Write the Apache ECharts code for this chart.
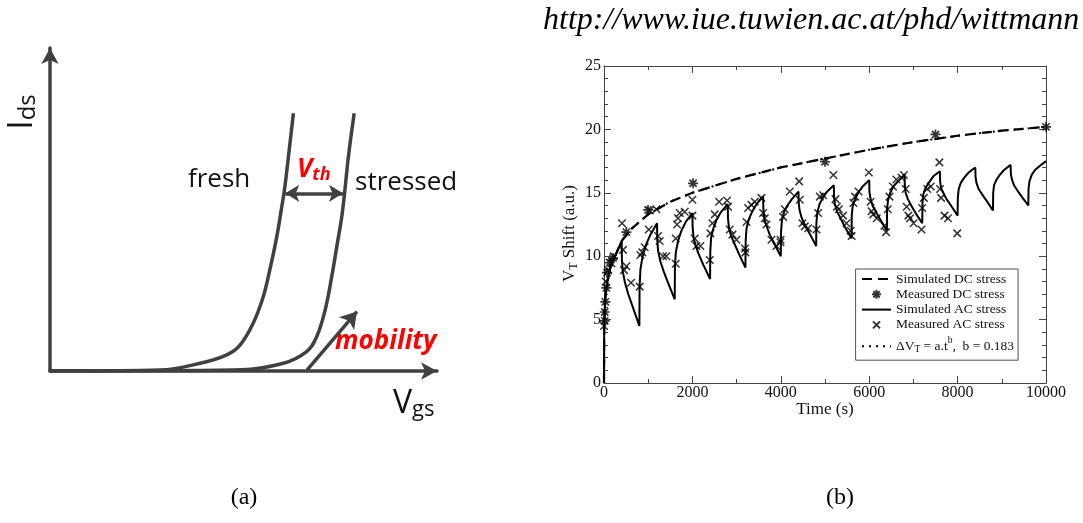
<!DOCTYPE html>
<html><head><meta charset="utf-8">
<script src="https://cdn.jsdelivr.net/npm/echarts/dist/echarts.min.js"></script>
<style>html,body{margin:0;padding:0;background:#fff}#c{width:1083px;height:523px}</style>
</head><body><div id="c"></div>
<script>
// ================= panel (b) data =================
const xTicks = [0, 2000, 4000, 6000, 8000, 10000];
const yTicks = [0, 5, 10, 15, 20, 25];
// Simulated DC stress (dashed)
const simDC = [[0,0],[5,4.7],[25,6.6],[75,8.0],[150,9.2],[250,10.0],[400,11.2],[600,12.1],[800,12.7],[1000,13.3],[1500,14.3],[2000,15.0],[3000,16.1],[4000,17.0],[5000,17.7],[6000,18.4],[7000,19.0],[8000,19.5],[9000,19.9],[10000,20.2]];
// Power-law fit dV_T = a.t^b (dotted, on top of the DC curve)
const fitDC = [[0,0],[5,4.7],[25,6.6],[75,8.0],[150,9.2],[250,10.0],[400,11.2],[600,12.1],[800,12.7],[1000,13.3],[1500,14.3],[2000,15.0],[3000,16.1],[4000,17.0],[5000,17.7],[6000,18.4],[7000,19.0],[8000,19.5],[9000,19.9],[10000,20.2]];
// Measured DC stress (asterisks)
const measDC = [[16,4.9],[16,5.6],[31,6.4],[54,7.5],[69,8.7],[129,9.5],[204,9.85],[506,11.9],[997,13.65],[2015,15.75],[5000,17.45],[7500,19.6],[10000,20.2]];
// Simulated AC stress (solid sawtooth)
const simAC = [[0,0],[5,4.7],[25,6.6],[75,8.0],[150,9.2],[250,10.0],[400,11.2],
[405,9.7],[425,8.8],[475,7.9],[550,7.0],[650,6.0],[800,4.5],
[805,7.6],[825,9.0],[875,10.0],[950,10.9],[1050,11.7],[1200,12.6],
[1205,11.3],[1225,10.4],[1275,9.6],[1350,8.8],[1450,7.9],[1600,6.6],
[1605,9.2],[1625,10.3],[1675,11.2],[1750,12.0],[1850,12.7],[2000,13.4],
[2005,12.3],[2025,11.5],[2075,10.8],[2150,10.1],[2250,9.3],[2400,8.2],
[2405,10.4],[2425,11.5],[2475,12.2],[2550,12.9],[2650,13.5],[2800,14.1],
[2805,13.0],[2825,12.3],[2875,11.6],[2950,11.0],[3050,10.2],[3200,9.1],
[3205,11.2],[3225,12.2],[3275,12.9],[3350,13.5],[3450,14.1],[3600,14.7],
[3605,13.7],[3625,13.0],[3675,12.4],[3750,11.7],[3850,11.0],[4000,10.0],
[4005,11.9],[4025,12.8],[4075,13.5],[4150,14.0],[4250,14.5],[4400,15.1],
[4405,14.2],[4425,13.6],[4475,13.0],[4550,12.4],[4650,11.8],[4800,10.8],
[4805,12.6],[4825,13.4],[4875,14.1],[4950,14.6],[5050,15.1],[5200,15.6],
[5205,14.7],[5225,14.1],[5275,13.5],[5350,13.0],[5450,12.3],[5600,11.4],
[5605,13.2],[5625,13.9],[5675,14.5],[5750,15.0],[5850,15.5],[6000,16.0],
[6005,15.1],[6025,14.6],[6075,14.0],[6150,13.5],[6250,12.9],[6400,12.0],
[6405,13.7],[6425,14.4],[6475,15.0],[6550,15.5],[6650,15.9],[6800,16.4],
[6805,15.6],[6825,15.0],[6875,14.5],[6950,14.0],[7050,13.4],[7200,12.6],
[7205,14.2],[7225,14.9],[7275,15.4],[7350,15.8],[7450,16.3],[7600,16.7],
[7605,15.9],[7625,15.4],[7675,15.0],[7750,14.5],[7850,14.0],[8000,13.2],
[8005,14.6],[8025,15.3],[8075,15.8],[8150,16.2],[8250,16.6],[8400,17.0],
[8405,16.3],[8425,15.8],[8475,15.3],[8550,14.9],[8650,14.4],[8800,13.6],
[8805,15.0],[8825,15.6],[8875,16.0],[8950,16.4],[9050,16.8],[9200,17.2],
[9205,16.5],[9225,16.1],[9275,15.6],[9350,15.2],[9450,14.7],[9600,14.0],
[9605,15.3],[9625,15.9],[9675,16.4],[9750,16.8],[9850,17.1],[10000,17.5]];
// Measured AC stress (crosses)
const measAC = [[0,4.5],[38,8.0],[91,8.9],[166,9.45],[219,10.0],
[408,12.6],[430,10.5],[453,8.9],[506,9.2],[612,7.9],[808,7.6],[823,10.1],[868,10.3],[921,10.7],[1013,12.1],[1034,13.6],[1185,13.7],[1223,11.6],[1260,11.2],[1336,10.0],[1411,10.0],
[1623,9.4],[1623,11.4],[1653,12.5],[1675,13.0],[1713,13.4],[1826,13.5],[2000,14.45],[2000,13.2],[2053,11.4],[2091,10.8],[2181,10.8],
[2392,9.7],[2408,11.8],[2453,12.6],[2506,13.3],[2604,14.3],[2785,14.4],[2808,13.9],[2845,12.1],[2906,11.7],[2996,11.3],
[3190,10.6],[3200,10.3],[3225,12.7],[3260,13.8],[3336,14.05],[3411,14.3],[3562,14.6],[3600,13.4],[3638,13.0],[3675,12.5],[3789,11.3],[3902,10.8],
[3992,11.1],[3995,11.3],[4053,13.1],[4090,13.7],[4204,15.1],[4415,15.9],[4430,14.45],[4490,12.6],[4543,12.35],[4619,12.2],[4808,12.1],[4845,13.4],[4883,14.7],[4958,14.8],
[5190,16.4],[5237,14.5],[5268,13.9],[5315,13.7],[5408,13.2],[5486,12.6],[5580,12.0],[5603,11.6],[5642,14.2],[5681,14.7],[5759,15.1],
[5992,16.6],[6031,14.3],[6054,13.55],[6093,13.3],[6171,13.0],[6342,12.4],[6381,11.9],[6420,13.7],[6459,14.7],[6537,15.5],[6615,16.05],[6732,16.2],
[6786,16.4],[6825,15.3],[6848,13.9],[6887,13.2],[6926,13.0],[7004,12.6],[7183,12.1],[7198,13.8],[7237,14.6],[7315,15.3],[7393,15.5],
[7588,17.4],[7603,15.3],[7626,14.6],[7704,13.2],[7782,13.0],[7992,11.8]];
const seriesNames = ['Simulated DC stress', 'Measured DC stress', 'Simulated AC stress', 'Measured AC stress', 'fit'];

// ================= panel (a) data (arbitrary units 0..100) =================
const freshCurve = [[0,0],[12.9,0.06],[28.4,0.3],[38.8,2.4],[45.7,5.0],[49.1,8.0],[52.5,14.8],[55.1,23.0],[56.8,31.3],[58.6,41.6],[59.9,50.9],[60.7,57.1],[61.6,66.3],[62.9,79.8]];
const stressedCurve = [[0,0],[20,0.05],[47.4,0.3],[60.3,2.4],[66.3,6.0],[68.9,10.6],[71.1,18.9],[72.8,29.2],[74.1,38.5],[75.4,47.8],[76.2,56.0],[77.1,66.3],[78.6,79.8]];
const vthArrow = [[60.8,55.0],[75.7,55.0]];
const mobilityArrow = [[66.4,0.3],[79.3,18.4]];

const serif = '"Liberation Serif","Times New Roman",serif';
const sans = '"Open Sans","Liberation Sans",sans-serif';
const asterisk = 'path://M0,-5L0,5M-5,0L5,0M-3.6,-3.6L3.6,3.6M-3.6,3.6L3.6,-3.6';
const asteriskIcon = 'path://M-7,-7M7,7M0,-4.5L0,4.5M-4.5,0L4.5,0M-3.2,-3.2L3.2,3.2M-3.2,3.2L3.2,-3.2';
const cross = 'path://M-4,-4L4,4M-4,4L4,-4';
const crossIcon = 'path://M-7,-7M7,7M-3.5,-3.5L3.5,3.5M-3.5,3.5L3.5,-3.5';
const ink = '#111';
const frame = '#444';
const darkGray = '#404040';
const red = '#ff0000';

const chart = echarts.init(document.getElementById('c'));

const bAxisCommon = {
  axisLine: {show: true, onZero: false, lineStyle: {color: frame, width: 1}},
  axisTick: {show: true, inside: true, length: 7, lineStyle: {color: frame, width: 1}},
  splitLine: {show: false}, minorSplitLine: {show: false}
};
const plain = v => String(v);

const option = {
  animation: false,
  backgroundColor: '#fff',
  grid: [
    {left: 604, top: 66, width: 442, height: 317},
    {left: 50, top: 48, width: 387, height: 323}
  ],
  xAxis: [
    Object.assign({gridIndex: 0, type: 'value', min: xTicks[0], max: xTicks[xTicks.length-1], interval: xTicks[1]-xTicks[0], position: 'bottom',
      axisLabel: {show: true, fontFamily: serif, fontSize: 16, color: ink, margin: 2, formatter: plain},
      name: 'Time (s)', nameLocation: 'middle', nameGap: 18, nameMoveOverlap: false,
      nameTextStyle: {fontFamily: serif, fontSize: 17, color: ink}}, bAxisCommon,
      {minorTick: {show: true, splitNumber: 2, length: 4, lineStyle: {color: frame}}}),
    Object.assign({gridIndex: 0, type: 'value', min: xTicks[0], max: xTicks[xTicks.length-1], interval: xTicks[1]-xTicks[0], position: 'top',
      axisLabel: {show: false}}, bAxisCommon,
      {minorTick: {show: true, splitNumber: 2, length: 4, lineStyle: {color: frame}}}),
    {gridIndex: 1, type: 'value', min: 0, max: 100, axisLine: {show: true, symbol: ['none', 'arrow'], symbolSize: [13, 16], lineStyle: {color: darkGray, width: 3.5}},
      axisTick: {show: false}, axisLabel: {show: false}, splitLine: {show: false}}
  ],
  yAxis: [
    Object.assign({gridIndex: 0, type: 'value', min: yTicks[0], max: yTicks[yTicks.length-1], interval: yTicks[1]-yTicks[0], position: 'left',
      axisLabel: {show: true, fontFamily: serif, fontSize: 16, color: ink, margin: 3, formatter: plain},
      name: '{m|V}{sub|T}{m| Shift (a.u.)}', nameLocation: 'middle', nameGap: 24, nameRotate: 90, nameMoveOverlap: false,
      nameTextStyle: {fontFamily: serif, fontSize: 17, color: ink, padding: [0, 18, 0, 0], rich: {
        m: {fontFamily: serif, fontSize: 17, color: ink, lineHeight: 20},
        sub: {fontFamily: serif, fontSize: 12, color: ink, lineHeight: 12, padding: [8, 0, 0, 0]}
      }}}, bAxisCommon,
      {minorTick: {show: true, splitNumber: 5, length: 4, lineStyle: {color: frame}}}),
    Object.assign({gridIndex: 0, type: 'value', min: yTicks[0], max: yTicks[yTicks.length-1], interval: yTicks[1]-yTicks[0], position: 'right',
      axisLabel: {show: false}}, bAxisCommon,
      {minorTick: {show: true, splitNumber: 5, length: 4, lineStyle: {color: frame}}}),
    {gridIndex: 1, type: 'value', min: 0, max: 100, axisLine: {show: true, symbol: ['none', 'arrow'], symbolSize: [13, 16], lineStyle: {color: darkGray, width: 3.5}},
      axisTick: {show: false}, axisLabel: {show: false}, splitLine: {show: false}}
  ],
  legend: {
    data: [
      {name: seriesNames[0], itemStyle: {opacity: 0}},
      {name: seriesNames[1], icon: asteriskIcon},
      {name: seriesNames[2], itemStyle: {opacity: 0}},
      {name: seriesNames[3], icon: crossIcon},
      {name: seriesNames[4], itemStyle: {opacity: 0}}
    ],
    orient: 'vertical', left: 855.6, top: 269,
    padding: [3, 4, 1, 5.4], itemGap: 0.3, itemWidth: 29, itemHeight: 14,
    borderColor: '#555', borderWidth: 1, selectedMode: false,
    formatter: function (name) {
      return name === 'fit' ? '{m|ΔV}{sub|T}{m| = a.t}{sup|b}{m|,  b = 0.183}' : name;
    },
    textStyle: {fontFamily: serif, fontSize: 13.5, color: ink, lineHeight: 14, rich: {
      m: {fontFamily: serif, fontSize: 13.5, color: ink, lineHeight: 26},
      sub: {fontFamily: serif, fontSize: 9.5, color: ink, lineHeight: 10, padding: [7, 0, 0, 0]},
      sup: {fontFamily: serif, fontSize: 9.5, color: ink, lineHeight: 10, padding: [0, 0, 12, 0]}
    }}
  },
  series: [
    {name: seriesNames[0], type: 'line', xAxisIndex: 0, yAxisIndex: 0, data: simDC, symbol: 'none', showSymbol: false,
      lineStyle: {color: '#000', width: 2.2, type: [10, 6]}, itemStyle: {color: '#000'}, z: 3},
    {name: seriesNames[1], type: 'scatter', xAxisIndex: 0, yAxisIndex: 0, data: measDC, symbol: asterisk, symbolSize: 10,
      itemStyle: {color: 'rgba(0,0,0,0)', borderColor: '#000', borderWidth: 1.7}, z: 5},
    {name: seriesNames[2], type: 'line', xAxisIndex: 0, yAxisIndex: 0, data: simAC, symbol: 'none', showSymbol: false,
      lineStyle: {color: '#000', width: 2, type: 'solid'}, itemStyle: {color: '#000'}, z: 4},
    {name: seriesNames[3], type: 'scatter', xAxisIndex: 0, yAxisIndex: 0, data: measAC, symbol: cross, symbolSize: 7.5,
      itemStyle: {color: 'rgba(0,0,0,0)', borderColor: '#000', borderWidth: 1.5}, z: 5},
    {name: seriesNames[4], type: 'line', xAxisIndex: 0, yAxisIndex: 0, data: fitDC, symbol: 'none', showSymbol: false,
      lineStyle: {color: '#000', width: 2, type: [2, 5]}, itemStyle: {color: '#000'}, z: 3},
    // panel (a)
    {name: 'fresh', type: 'line', xAxisIndex: 2, yAxisIndex: 2, data: freshCurve, symbol: 'none', smooth: 0.4,
      lineStyle: {color: darkGray, width: 3.5}, silent: true,
      markLine: {silent: true, symbol: ['arrow', 'arrow'], symbolSize: [13, 14], label: {show: false},
        lineStyle: {color: darkGray, width: 3.5, type: 'solid'},
        data: [[{coord: vthArrow[0]}, {coord: vthArrow[1]}]]}},
    {name: 'stressed', type: 'line', xAxisIndex: 2, yAxisIndex: 2, data: stressedCurve, symbol: 'none', smooth: 0.4,
      lineStyle: {color: darkGray, width: 3.5}, silent: true,
      markLine: {silent: true, symbol: ['none', 'arrow'], symbolSize: [15, 16], label: {show: false},
        lineStyle: {color: darkGray, width: 3.5, type: 'solid', curveness: 0.12},
        data: [[{coord: mobilityArrow[0]}, {coord: mobilityArrow[1]}]]}}
  ],
  graphic: [
    {type: 'text', x: 543, y: 21, style: {text: 'http://www.iue.tuwien.ac.at/phd/wittmann', fontFamily: serif, fontStyle: 'italic', fontSize: 32, fill: '#000', align: 'left', verticalAlign: 'middle'}},
    {type: 'text', x: 244, y: 498, style: {text: '(a)', fontFamily: serif, fontSize: 24, fill: '#000', align: 'center', verticalAlign: 'middle'}},
    {type: 'text', x: 840, y: 498, style: {text: '(b)', fontFamily: serif, fontSize: 24, fill: '#000', align: 'center', verticalAlign: 'middle'}},
    {type: 'text', x: 188, y: 180, style: {text: 'fresh', fontFamily: sans, fontSize: 26, fill: '#111', align: 'left', verticalAlign: 'middle'}},
    {type: 'text', x: 355, y: 183, style: {text: 'stressed', fontFamily: sans, fontSize: 26, fill: '#111', align: 'left', verticalAlign: 'middle'}},
    {type: 'text', x: 297, y: 170, style: {text: '{v|V}{s|th}', align: 'left', verticalAlign: 'middle', rich: {
      v: {fontFamily: sans, fontSize: 26, fontWeight: 'bold', fontStyle: 'italic', fill: red, lineHeight: 30},
      s: {fontFamily: sans, fontSize: 18, fontWeight: 'bold', fontStyle: 'italic', fill: red, lineHeight: 20, padding: [10, 0, 0, 0]}}}},
    {type: 'text', x: 335, y: 342, style: {text: 'mobility', fontFamily: sans, fontSize: 26, fontWeight: 'bold', fontStyle: 'italic', fill: red, align: 'left', verticalAlign: 'middle'}},
    {type: 'text', x: 393, y: 404, style: {text: '{v|V}{s|gs}', align: 'left', verticalAlign: 'middle', rich: {
      v: {fontFamily: sans, fontSize: 32, fill: '#111', lineHeight: 36},
      s: {fontFamily: sans, fontSize: 22, fill: '#111', lineHeight: 24, padding: [12, 0, 0, 0]}}}},
    {type: 'text', x: 22, y: 112, rotation: Math.PI / 2, style: {text: '{v|I}{s|ds}', align: 'center', verticalAlign: 'middle', rich: {
      v: {fontFamily: sans, fontSize: 34, fill: '#111', lineHeight: 38},
      s: {fontFamily: sans, fontSize: 24, fill: '#111', lineHeight: 26, padding: [12, 0, 0, 0]}}}}
  ]
};
chart.setOption(option);
</script>
</body></html>
